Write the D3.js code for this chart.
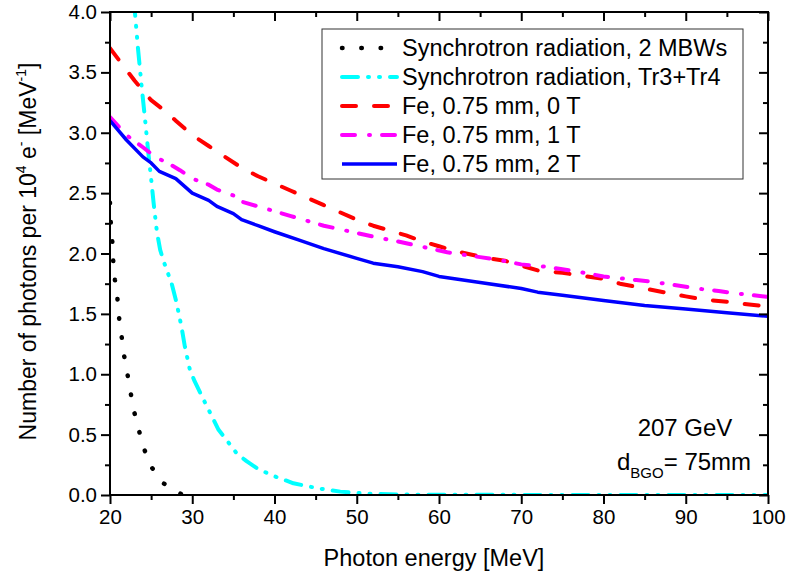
<!DOCTYPE html>
<html>
<head>
<meta charset="utf-8">
<script src="https://cdn.jsdelivr.net/npm/d3@7"></script>
<style>
  body { margin: 0; background: #fff; }
  svg { display: block; font-family: "Liberation Sans", Arial, sans-serif; }
</style>
</head>
<body>
<svg id="chart" width="786" height="579"></svg>
<script>
// photon energy [MeV] and photons per 1e4 e- [MeV^-1]
const mbwE = [20, 20.1, 20.3, 20.4, 20.6, 20.9, 21.1, 21.4, 21.7, 22.1, 22.5, 22.9, 23.5, 24.1, 25, 26.5, 28.7, 30];
const mbwN = [2.42, 2.25, 2.08, 1.93, 1.78, 1.63, 1.47, 1.32, 1.16, 1.01, 0.85, 0.70, 0.54, 0.39, 0.235, 0.097, 0.005, 0];

const trE = [22.9, 23.4, 23.85, 24.25, 24.65, 25.0, 25.3, 25.7, 26.1, 26.5, 27.5, 28.1, 28.7, 29.1, 29.7, 30.3, 31.3, 32.4, 33.2, 34.8, 35.4, 36.6, 38, 40, 42.3, 45.3, 48, 51.4, 55, 60, 70, 80, 90, 100];
const trN = [4.10, 3.70, 3.38, 3.12, 2.84, 2.62, 2.42, 2.18, 2.03, 1.94, 1.75, 1.59, 1.39, 1.23, 1.04, 0.94, 0.80, 0.65, 0.54, 0.40, 0.345, 0.28, 0.215, 0.155, 0.097, 0.055, 0.028, 0.01, 0.004, 0.002, 0.001, 0, 0, 0];

const fe0E = [20, 22, 23, 25, 26.5, 28, 30, 32, 34, 36, 38, 40, 42, 44, 46, 48, 50, 52, 54, 56, 58, 60, 62, 64, 66, 68, 70, 72, 75, 78, 80, 82, 85, 88, 90, 92, 95, 98, 100];
const fe0N = [3.70, 3.52, 3.43, 3.27, 3.19, 3.10, 2.98, 2.89, 2.80, 2.71, 2.64, 2.58, 2.52, 2.46, 2.40, 2.34, 2.28, 2.23, 2.19, 2.15, 2.10, 2.06, 2.02, 1.99, 1.96, 1.94, 1.90, 1.86, 1.84, 1.81, 1.79, 1.75, 1.71, 1.67, 1.645, 1.62, 1.60, 1.575, 1.56];

const fe1E = [20, 22, 24, 25.5, 27, 28.5, 30, 32, 33, 35, 36, 38, 40, 42, 44, 46, 48, 50, 52, 55, 57, 59, 61, 63, 65, 67, 70, 73, 75, 78, 80, 82, 84, 86, 88, 90, 92, 94, 96, 98, 100];
const fe1N = [3.13, 2.98, 2.88, 2.80, 2.75, 2.69, 2.62, 2.57, 2.53, 2.48, 2.43, 2.39, 2.35, 2.31, 2.27, 2.23, 2.20, 2.17, 2.14, 2.10, 2.07, 2.04, 2.01, 1.99, 1.97, 1.95, 1.91, 1.89, 1.87, 1.836, 1.81, 1.795, 1.78, 1.765, 1.745, 1.725, 1.705, 1.69, 1.67, 1.656, 1.64];

const fe2E = [20, 22, 24, 25, 26, 28, 30, 32, 33, 35, 36, 38, 40, 43, 46, 50, 52, 55, 58, 60, 65, 70, 72, 75, 80, 85, 90, 95, 100];
const fe2N = [3.10, 2.94, 2.80, 2.75, 2.68, 2.62, 2.50, 2.44, 2.39, 2.33, 2.28, 2.23, 2.18, 2.11, 2.04, 1.96, 1.92, 1.89, 1.85, 1.81, 1.76, 1.71, 1.68, 1.655, 1.61, 1.57, 1.54, 1.51, 1.48];

const seriesNames = ["Synchrotron radiation, 2 MBWs", "Synchrotron radiation, Tr3+Tr4", "Fe, 0.75 mm, 0 T", "Fe, 0.75 mm, 1 T", "Fe, 0.75 mm, 2 T"];
const xTicks = [20, 30, 40, 50, 60, 70, 80, 90, 100];
const yTicks = [0, 0.5, 1, 1.5, 2, 2.5, 3, 3.5, 4];

const series = [
    { name: seriesNames[0], e: mbwE, n: mbwN, color: "#000000", dash: "0.5,18.8", cap: "round", w: 4.5 },
    { name: seriesNames[1], e: trE, n: trN, color: "#00ffff", dash: "16,10,1,10,1,10", cap: "round", w: 4 },
    { name: seriesNames[2], e: fe0E, n: fe0N, color: "#ff0000", dash: "14,18", cap: "round", w: 4 },
    { name: seriesNames[3], e: fe1E, n: fe1N, color: "#ff00ff", dash: "13,14,1,12", cap: "round", w: 4 },
    { name: seriesNames[4], e: fe2E, n: fe2N, color: "#0000ff", dash: null, cap: "butt", w: 3.5 }
];

const svg = d3.select("#chart");
const margin = { top: 12, right: 18, bottom: 84, left: 110 };
const width = +svg.attr("width") - margin.left - margin.right;
const height = +svg.attr("height") - margin.top - margin.bottom;

const x = d3.scaleLinear().domain([20, 100]).range([0, width]);
const y = d3.scaleLinear().domain([0, 4]).range([height, 0]);

const g = svg.append("g").attr("transform", `translate(${margin.left},${margin.top})`);

g.append("clipPath").attr("id", "plot-clip")
    .append("rect").attr("width", width).attr("height", height);

// curves
const line = d3.line().x(d => x(d[0])).y(d => y(d[1]));
const curves = g.append("g").attr("clip-path", "url(#plot-clip)");
series.forEach(s => {
    curves.append("path")
        .datum(s.e.map((v, i) => [v, s.n[i]]))
        .attr("d", line)
        .attr("fill", "none")
        .attr("stroke", s.color)
        .attr("stroke-width", s.w)
        .attr("stroke-linecap", s.cap)
        .attr("stroke-linejoin", "round")
        .attr("stroke-dasharray", s.dash);
});

// axes: minor ticks first, then major ones with labels
const xMinor = d3.range(25, 100, 10);
const yMinor = d3.range(0.25, 4, 0.5);

function styleAxis(sel) {
    sel.select(".domain").remove();
    sel.selectAll("line").attr("stroke", "#000").attr("stroke-width", 2);
    sel.selectAll("text").attr("fill", "#000").style("font-size", "20.5px");
}

g.append("g").attr("transform", `translate(0,${height})`)
    .call(d3.axisBottom(x).tickValues(xMinor).tickSize(5).tickFormat(""))
    .call(styleAxis);
g.append("g").attr("transform", `translate(0,${height})`)
    .call(d3.axisBottom(x).tickValues(xTicks).tickSize(9).tickPadding(5).tickFormat(d3.format("d")))
    .call(styleAxis);

g.append("g")
    .call(d3.axisLeft(y).tickValues(yMinor).tickSize(5).tickFormat(""))
    .call(styleAxis);
g.append("g")
    .call(d3.axisLeft(y).tickValues(yTicks).tickSize(9).tickPadding(4).tickFormat(d3.format(".1f")))
    .call(styleAxis);

// mirrored ticks on top (pointing in) and right (pointing in)
g.append("g").call(d3.axisBottom(x).tickValues(xMinor).tickSize(5).tickFormat("")).call(styleAxis);
g.append("g").call(d3.axisBottom(x).tickValues(xTicks).tickSize(9).tickFormat("")).call(styleAxis);
g.append("g").attr("transform", `translate(${width},0)`)
    .call(d3.axisLeft(y).tickValues(yMinor).tickSize(5).tickFormat("")).call(styleAxis);
g.append("g").attr("transform", `translate(${width},0)`)
    .call(d3.axisLeft(y).tickValues(yTicks).tickSize(9).tickFormat("")).call(styleAxis);

g.append("rect")
    .attr("width", width).attr("height", height)
    .attr("fill", "none").attr("stroke", "#000").attr("stroke-width", 2);

// axis titles
svg.append("text")
    .attr("x", 434)
    .attr("y", 566)
    .attr("text-anchor", "middle")
    .style("font-size", "23.5px")
    .text("Photon energy [MeV]");

const yTitle = svg.append("text")
    .attr("transform", `translate(36,${margin.top + height / 2 - 2}) rotate(-90)`)
    .attr("text-anchor", "middle")
    .style("font-size", "23px");
yTitle.append("tspan").text("Number of photons per 10");
yTitle.append("tspan").attr("dy", -10).style("font-size", "14px").text("4");
yTitle.append("tspan").attr("dy", 10).text(" e");
yTitle.append("tspan").attr("dy", -10).style("font-size", "14px").text("-");
yTitle.append("tspan").attr("dy", 10).text(" [MeV");
yTitle.append("tspan").attr("dy", -10).style("font-size", "14px").text("-1");
yTitle.append("tspan").attr("dy", 10).text("]");

// legend
const legend = svg.append("g").attr("transform", "translate(322,29)");
legend.append("rect")
    .attr("width", 421).attr("height", 150)
    .attr("fill", "#fff").attr("stroke", "#333").attr("stroke-width", 1);

series.forEach((s, i) => {
    const row = legend.append("g").attr("transform", `translate(0,${19 + i * 29})`);
    row.append("line")
        .attr("x1", 20).attr("x2", 75)
        .attr("stroke", s.color)
        .attr("stroke-width", s.w)
        .attr("stroke-linecap", s.cap)
        .attr("stroke-dasharray", s.dash);
    row.append("text")
        .attr("x", 80).attr("y", 8)
        .style("font-size", "23.5px")
        .text(s.name);
});

// annotation
svg.append("text")
    .attr("x", 685).attr("y", 436)
    .attr("text-anchor", "middle")
    .style("font-size", "24px")
    .text("207 GeV");

const ann = svg.append("text")
    .attr("x", 617).attr("y", 470)
    .style("font-size", "24px");
ann.append("tspan").text("d");
ann.append("tspan").attr("dy", 8).style("font-size", "15px").text("BGO");
ann.append("tspan").attr("dy", -8).text("= 75mm");
</script>
</body>
</html>
